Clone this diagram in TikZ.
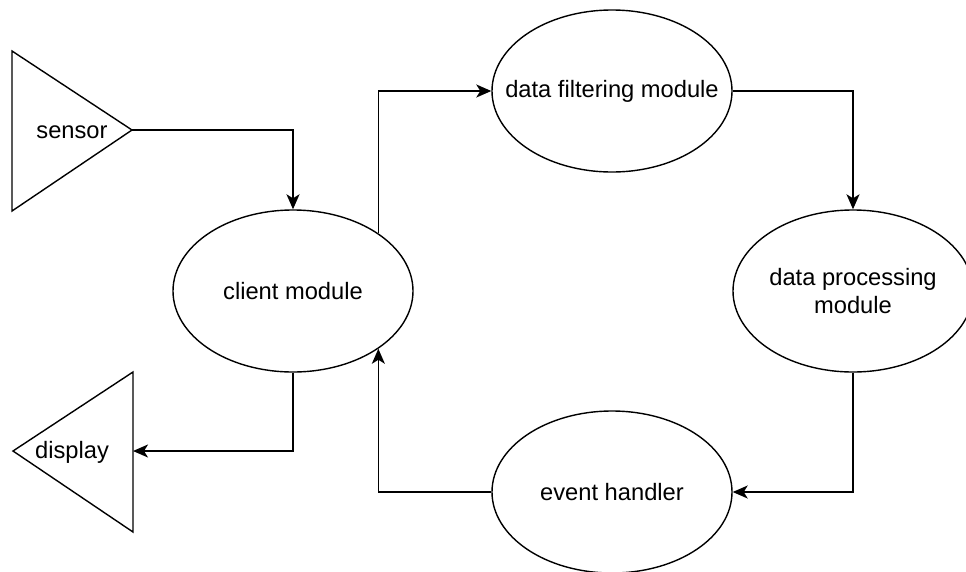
\documentclass[tikz,border=0pt]{standalone}
\usepackage{fontspec}
\setmainfont{Liberation Sans}
\usetikzlibrary{shapes.geometric,arrows.meta}
\begin{document}
\begin{tikzpicture}[x=1pt,y=-1pt,
  line width=1.6pt,
  every node/.style={font=\fontsize{23.7}{27.5}\selectfont},
  module/.style={ellipse,draw,line width=1.4pt,minimum width=240pt,minimum height=162pt,inner sep=0pt,align=center},
  flow/.style={-{Stealth[length=15pt,width=13pt,inset=4pt]},line width=1.6pt},
  tri/.style={draw,line width=1.4pt,line join=miter}]
\useasboundingbox (0,0) rectangle (966,571);
\begin{scope}
\clip (0,0) rectangle (966,571);

% sensor (source) and display (sink) triangles
\draw[tri] (12,51) -- (132,130) -- (12,211) -- cycle;
\coordinate (sensorTip) at (132,130);
\node (sensor) at (72,132) {sensor};

\draw[tri] (133,372) -- (13,451) -- (133,532) -- cycle;
\coordinate (displayEdge) at (133,451);
\node (display) at (72,452) {display};

% processing modules (labels in zero-width boxes so the ellipses keep their size)
\node[module] (client) at (293,291) {\makebox[0pt]{client module}};
\node[module] (filter) at (612,91) {\makebox[0pt]{data filtering module}};
\node[module] (proc) at (853,291) {\makebox[0pt]{data processing}\\\makebox[0pt]{module}};
\node[module] (event) at (612,492) {\makebox[0pt]{event handler}};

% connectors
\draw[flow] (sensorTip) -| (client.north);
\draw[flow] (client.north east) |- (filter.west);
\draw[flow] (filter.east) -| (proc.north);
\draw[flow] (proc.south) |- (event.east);
\draw[flow] (event.west) -| (client.south east);
\draw[flow] (client.south) |- (displayEdge);
\end{scope}
\end{tikzpicture}
\end{document}
